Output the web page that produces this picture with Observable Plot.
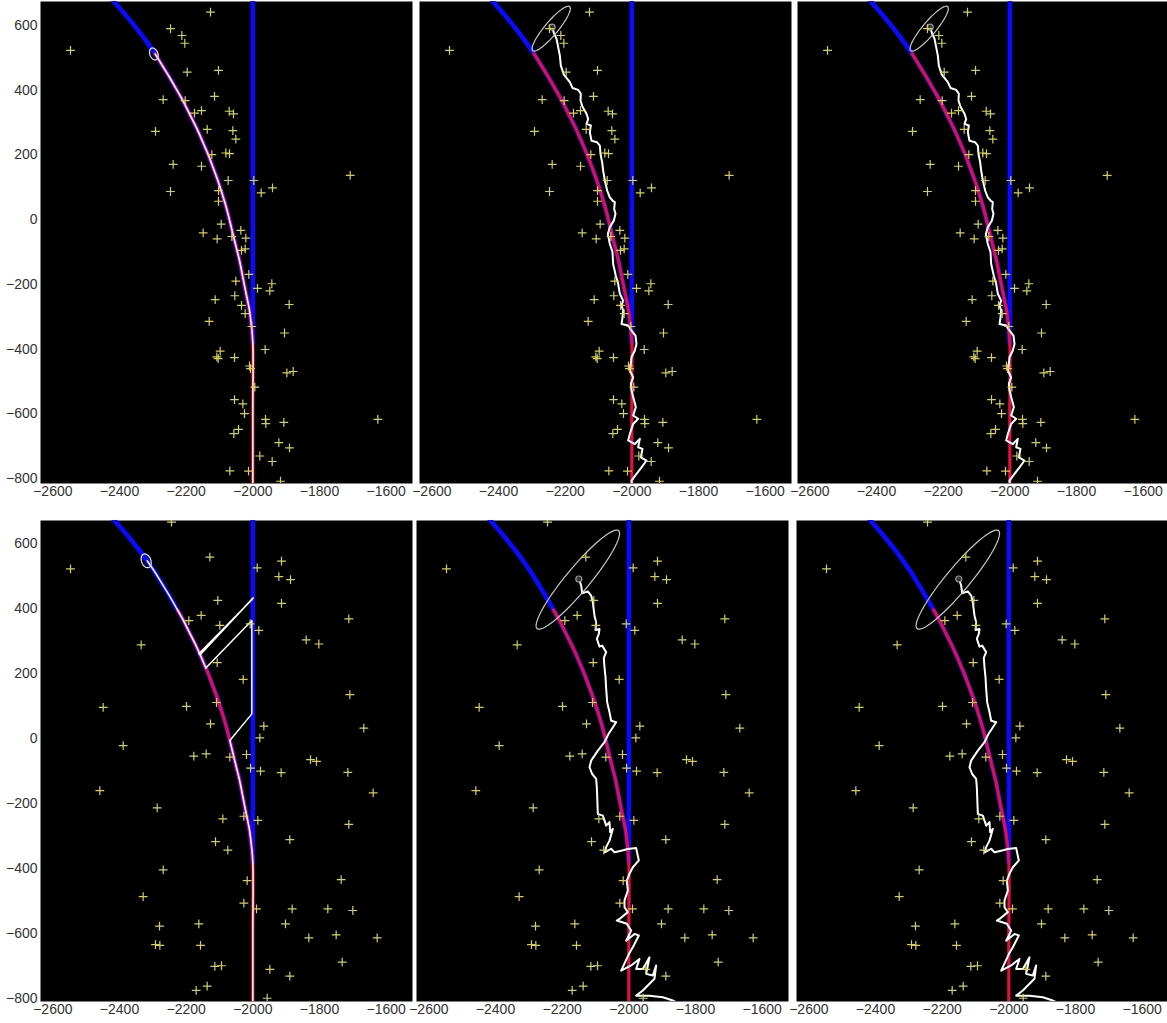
<!DOCTYPE html>
<html>
<head>
<meta charset="utf-8">
<script src="https://cdn.jsdelivr.net/npm/d3@7"></script>
<script src="https://cdn.jsdelivr.net/npm/@observablehq/plot@0.6"></script>
<style>
  body { margin: 0; background: #ffffff; }
  #fig { position: relative; width: 1167px; height: 1023px; background: #ffffff; overflow: hidden; }
  #fig > div { position: absolute; }
  #fig svg { max-width: none !important; }
</style>
</head>
<body>
<div id="fig"></div>
<script>
// ---------- tick labels ----------
const xTicks = [-2600, -2400, -2200, -2000, -1800, -1600];
const yTicks = [-800, -600, -400, -200, 0, 200, 400, 600];
const xDomain = [-2637, -1521];
const topYDomain = [-815, 674];
const bottomYDomain = [-808, 672];

// ---------- measurements (yellow crosses), top row ----------
const topPoints = [
  [-2127,641],[-2247,590],[-2213,569],[-2204,545],[-2547,523],[-2197,456],[-2103,461],[-2115,381],
  [-2269,371],[-2203,368],[-2175,329],[-2154,337],[-2071,335],[-2058,327],[-2292,273],[-2137,279],
  [-2060,275],[-2051,249],[-2123,201],[-2081,206],[-2070,204],[-2239,171],[-2154,165],[-2074,121],
  [-2247,87],[-2103,90],[-2103,57],[-1997,121],[-1975,83],[-1941,98],[-1708,137],[-2095,-14],
  [-2149,-41],[-2107,-59],[-2063,-52],[-2036,-33],[-2021,-57],[-2023,-90],[-2034,-95],[-2012,-169],
  [-2051,-190],[-2054,-235],[-2113,-247],[-2034,-265],[-2023,-290],[-1986,-212],[-1943,-198],[-1949,-220],
  [-1891,-262],[-2131,-314],[-2003,-330],[-1905,-350],[-1963,-401],[-2098,-406],[-2108,-424],[-2104,-429],
  [-2055,-426],[-2010,-452],[-2007,-460],[-1898,-473],[-1879,-469],[-1994,-517],[-2055,-556],[-2030,-569],
  [-2025,-599],[-1962,-617],[-1961,-630],[-1907,-626],[-1625,-617],[-2043,-648],[-2057,-661],[-1922,-689],
  [-1890,-705],[-1979,-730],[-1942,-747],[-2069,-776],[-2013,-777],[-1917,-808]
];

// ---------- measurements (yellow crosses), bottom row ----------
const bottomPoints = [
  [-2244,667],[-2129,559],[-2547,523],[-1987,526],[-1914,547],[-1922,499],[-1887,490],[-1914,417],
  [-2105,426],[-2192,364],[-2155,380],[-2099,349],[-1982,334],[-2008,354],[-1712,369],[-1840,305],
  [-1802,292],[-2335,289],[-2107,235],[-2029,183],[-1709,136],[-2449,97],[-2199,100],[-2109,112],
  [-2127,46],[-1967,39],[-1979,3],[-1667,33],[-2389,-21],[-2177,-53],[-2140,-46],[-2069,-56],
  [-2019,-48],[-2007,-90],[-1977,-99],[-1915,-104],[-1827,-64],[-1809,-69],[-1715,-103],[-1639,-166],
  [-2459,-159],[-2287,-212],[-2090,-246],[-2027,-238],[-1985,-251],[-1712,-263],[-2112,-316],[-2075,-342],
  [-1889,-310],[-2269,-403],[-2017,-436],[-1735,-433],[-2329,-485],[-2027,-505],[-1989,-523],[-1882,-523],
  [-1775,-523],[-1700,-528],[-2280,-576],[-2162,-569],[-1902,-569],[-1750,-603],[-1832,-612],[-1627,-612],
  [-2292,-633],[-2279,-635],[-2157,-635],[-2114,-700],[-2094,-698],[-1732,-687],[-1949,-709],[-1889,-730],
  [-2170,-774],[-2137,-761],[-1957,-798]
];

// ---------- hypotheses: straight path and turning path ----------
const straightPath = [[-2000,-380],[-2000,700]];
const turnPath = [
  [-2000,-815],[-2000,-600],[-2000,-380],[-2004,-330],[-2010,-280],[-2020,-229],[-2030,-178],
  [-2040,-126],[-2050,-85],[-2060,-43],[-2069,-5],[-2080,39],[-2092,80],[-2105,121],[-2120,163],
  [-2135,204],[-2141,218],[-2158,259],[-2170,286],[-2190,327],[-2210,368],[-2226,397],[-2250,440],
  [-2272,477],[-2293,512],[-2317,548],[-2344,585],[-2378,628],[-2415,672],[-2422,680]
];
const branchIndex = 2;       // where the turning path leaves the straight one
const topTruthEnd = 24;      // true position reached, top row
const bottomTruthEnd = 21;   // true position reached, bottom row
const topExactEnd = 24;      // exact estimate end, top-left
const bottomExactEnd = 25;   // exact estimate end, bottom-left

// bottom-left estimate: jumps between the two hypotheses
const blJumpStraight = [[-2003,77],[-2003,364]];
const blJumpBackIdx = [16, 17];
const blSpike = [[-1999,434],[-2003,428],[-2162,262]];

// ---------- filtered tracks (white jagged) ----------
const topTrack = [
  [-2239,595],[-2233,574],[-2226,559],[-2221,533],[-2216,507],[-2213,476],[-2204,448],[-2186,425],
  [-2178,407],[-2161,401],[-2153,389],[-2154,368],[-2148,349],[-2136,327],[-2131,311],[-2136,296],
  [-2123,291],[-2126,270],[-2121,244],[-2104,239],[-2096,229],[-2094,203],[-2089,177],[-2086,152],
  [-2081,121],[-2074,90],[-2066,69],[-2056,57],[-2051,54],[-2053,33],[-2049,18],[-2054,-3],
  [-2066,-23],[-2072,-44],[-2066,-75],[-2058,-100],[-2056,-137],[-2048,-173],[-2041,-198],[-2036,-229],
  [-2026,-250],[-2031,-265],[-2026,-281],[-2028,-303],[-2031,-322],[-2011,-327],[-2001,-343],[-1989,-358],
  [-1986,-384],[-1991,-404],[-2001,-425],[-2003,-446],[-2006,-466],[-1996,-487],[-2003,-507],[-2001,-528],
  [-1996,-548],[-1988,-579],[-1996,-605],[-1981,-615],[-1996,-631],[-2006,-662],[-2011,-682],[-1991,-693],
  [-1976,-677],[-1981,-703],[-1968,-708],[-1973,-734],[-1956,-744],[-1971,-765],[-1986,-785],[-2001,-806],
  [-2000,-815]
];
const bottomTrack = [
  [-2150,492],[-2143,472],[-2140,448],[-2123,454],[-2113,441],[-2108,420],[-2103,379],[-2098,359],
  [-2100,335],[-2088,338],[-2090,323],[-2096,308],[-2088,284],[-2080,287],[-2068,267],[-2075,249],
  [-2073,220],[-2070,190],[-2068,154],[-2065,113],[-2058,82],[-2053,56],[-2038,51],[-2061,15],
  [-2073,-10],[-2093,-36],[-2113,-67],[-2118,-87],[-2110,-108],[-2098,-123],[-2096,-149],[-2093,-231],
  [-2078,-236],[-2068,-267],[-2058,-256],[-2056,-287],[-2048,-277],[-2058,-313],[-2068,-333],[-2072,-349],
  [-2053,-338],[-2043,-349],[-2023,-344],[-2003,-339],[-1978,-336],[-1970,-374],[-1988,-395],[-1998,-415],
  [-2006,-436],[-2003,-467],[-2013,-497],[-2013,-518],[-2003,-533],[-2028,-554],[-2036,-559],[-2006,-569],
  [-1993,-590],[-2000,-605],[-2008,-621],[-1983,-600],[-1970,-605],[-1988,-641],[-2000,-662],[-2023,-713],
  [-1993,-697],[-1968,-677],[-1978,-708],[-1958,-708],[-1938,-672],[-1948,-723],[-1928,-728],[-1918,-697],
  [-1923,-738],[-1958,-774],[-1978,-790],[-1938,-790],[-1898,-795],[-1868,-805],[-1848,-815]
];

// ---------- uncertainty ellipses: [cx, cy, semi-major, semi-minor, angle deg] ----------
const ellipseTL = [-2297, 512, 19, 12, 110];
const ellipseBL = [-2320, 548, 22, 14, 110];
const ellipseTop = [-2242, 590, 88, 20, 51];
const ellipseBottom = [-2153, 490, 194, 36, 51];

// ---------- styling ----------
const BLUE = "#0a0aff";
const RED = "#e0103f";
const WHITE = "#ffffff";
const YELLOW = "#d2d25a";
const ELLIPSE_GRAY = "#c8c8c8";

const crossSymbol = {
  draw(context, size) {
    const r = Math.sqrt(size / Math.PI);
    context.moveTo(-r, 0); context.lineTo(r, 0);
    context.moveTo(0, -r); context.lineTo(0, r);
  }
};

function ellipsePoints(e) {
  const [cx, cy, a, b, deg] = e;
  const th = deg * Math.PI / 180;
  return d3.range(0, 73).map(i => {
    const t = i / 72 * 2 * Math.PI;
    return [cx + a * Math.cos(th) * Math.cos(t) - b * Math.sin(th) * Math.sin(t),
            cy + a * Math.sin(th) * Math.cos(t) + b * Math.cos(th) * Math.sin(t)];
  });
}

const X = d => d[0], Y = d => d[1];
const fmt = d => (d < 0 ? "\u2212" : "") + Math.abs(d);

// panels
const panels = [
  {row: "top", col: 0, kind: "exact", left: 40, top: 0},
  {row: "top", col: 1, kind: "filter", left: 419, top: 0},
  {row: "top", col: 2, kind: "filter", left: 797, top: 0},
  {row: "bottom", col: 0, kind: "exact", left: 40, top: 505},
  {row: "bottom", col: 1, kind: "filter", left: 416, top: 505},
  {row: "bottom", col: 2, kind: "filter", left: 796, top: 505}
];

function buildPanel(p) {
  const isTop = p.row === "top";
  const pts = isTop ? topPoints : bottomPoints;
  const truthEnd = isTop ? topTruthEnd : bottomTruthEnd;
  const marks = [];
  marks.push(Plot.frame({fill: "black", stroke: "none"}));
  marks.push(Plot.line(straightPath, {x: X, y: Y, stroke: BLUE, strokeWidth: 4.6, clip: true}));
  marks.push(Plot.line(turnPath.slice(branchIndex), {x: X, y: Y, stroke: BLUE, strokeWidth: 4.6, curve: "catmull-rom", clip: true}));
  marks.push(Plot.line(turnPath.slice(0, truthEnd + 1), {x: X, y: Y, stroke: RED, strokeWidth: 3.2, curve: "catmull-rom", clip: true}));

  if (p.kind === "exact") {
    if (isTop) {
      marks.push(Plot.line(turnPath.slice(0, topExactEnd + 1), {x: X, y: Y, stroke: WHITE, strokeWidth: 1.5, curve: "catmull-rom", clip: true}));
      marks.push(Plot.line(ellipsePoints(ellipseTL), {x: X, y: Y, stroke: "#e6e6ff", strokeWidth: 1.2, curve: "linear-closed"}));
    } else {
      const seg1 = turnPath.slice(0, 11);
      const seg2 = turnPath.slice(blJumpBackIdx[0], blJumpBackIdx[1] + 1);
      const seg3 = turnPath.slice(blJumpBackIdx[1], bottomExactEnd + 1);
      marks.push(Plot.line(seg1, {x: X, y: Y, stroke: WHITE, strokeWidth: 1.5, curve: "catmull-rom", clip: true}));
      marks.push(Plot.line([seg1[seg1.length - 1], ...blJumpStraight, seg2[0]], {x: X, y: Y, stroke: WHITE, strokeWidth: 1.5, clip: true}));
      marks.push(Plot.line(seg2, {x: X, y: Y, stroke: WHITE, strokeWidth: 1.5, clip: true}));
      marks.push(Plot.line([seg2[seg2.length - 1], ...blSpike], {x: X, y: Y, stroke: WHITE, strokeWidth: 1.6, clip: true}));
      marks.push(Plot.line(seg3, {x: X, y: Y, stroke: WHITE, strokeWidth: 1.5, curve: "catmull-rom", clip: true}));
      marks.push(Plot.line(ellipsePoints(ellipseBL), {x: X, y: Y, stroke: "#e6e6ff", strokeWidth: 1.2, curve: "linear-closed"}));
    }
  } else {
    const track = isTop ? topTrack : bottomTrack;
    const ell = isTop ? ellipseTop : ellipseBottom;
    marks.push(Plot.line(track, {x: X, y: Y, stroke: WHITE, strokeWidth: 2, clip: true}));
    marks.push(Plot.line(ellipsePoints(ell), {x: X, y: Y, stroke: ELLIPSE_GRAY, strokeWidth: 1.2, curve: "linear-closed", clip: true}));
    marks.push(Plot.dot([track[0]], {x: X, y: Y, r: 3, stroke: "#999999", fill: "#333333", strokeWidth: 1.2}));
  }

  marks.push(Plot.dot(pts, {x: X, y: Y, symbol: crossSymbol, r: 4.4, stroke: YELLOW, fill: "none", strokeWidth: 1.2, clip: true}));
  marks.push(Plot.axisX(xTicks, {tickSize: 0, tickPadding: 3, fontSize: 14, tickFormat: fmt}));
  if (p.col === 0) marks.push(Plot.axisY(yTicks, {tickSize: 0, tickPadding: 3, fontSize: 14, tickFormat: fmt}));

  const ml = p.col === 0 ? 40 : 4;
  const w = ml + 372 + 4;
  const svg = Plot.plot({
    width: w,
    height: isTop ? 505 : 518,
    marginLeft: ml,
    marginRight: 4,
    marginTop: isTop ? 1 : 15,
    marginBottom: 22,
    x: {domain: xDomain, axis: null},
    y: {domain: isTop ? topYDomain : bottomYDomain, axis: null},
    style: {background: "transparent", fontFamily: "'Liberation Sans', Arial, sans-serif", fontSize: "14px", color: "#333333", overflow: "visible", maxWidth: "none"},
    marks
  });
  const holder = document.createElement("div");
  holder.style.left = (p.left - ml) + "px";
  holder.style.top = p.top + "px";
  holder.style.width = w + "px";
  holder.appendChild(svg);
  document.getElementById("fig").appendChild(holder);
}

panels.forEach(buildPanel);
</script>
</body>
</html>
